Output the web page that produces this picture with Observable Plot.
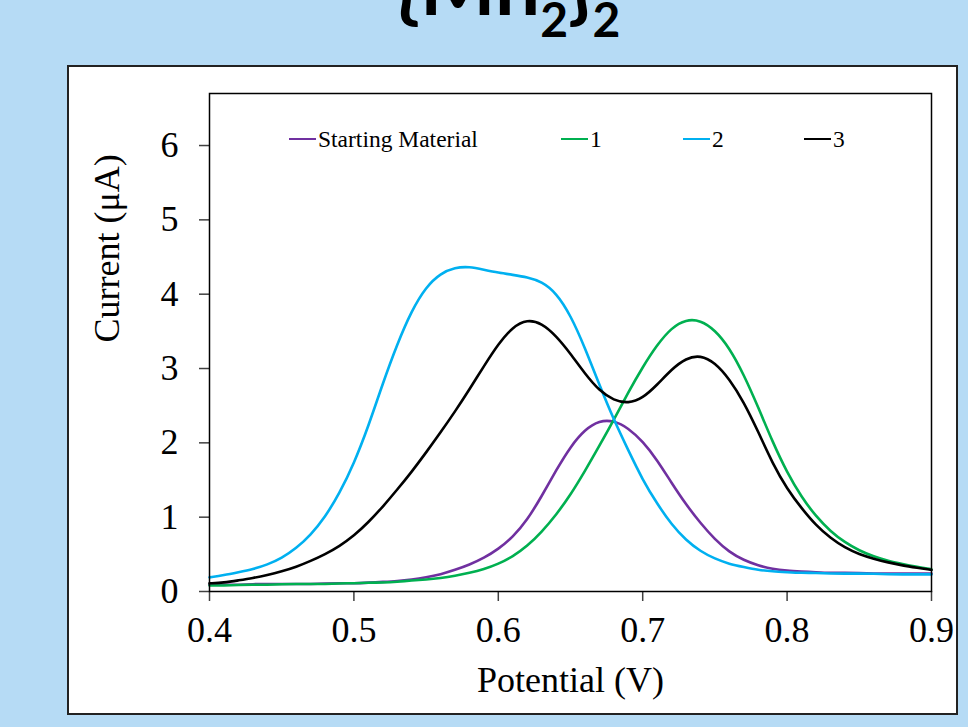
<!DOCTYPE html>
<html><head><meta charset="utf-8">
<script src="https://cdn.jsdelivr.net/npm/d3@7"></script>
<script src="https://cdn.jsdelivr.net/npm/@observablehq/plot@0.6"></script>
<style>
html,body{margin:0;padding:0;}
body{width:968px;height:727px;background:#b6dbf5;position:relative;overflow:hidden;font-family:"Liberation Serif","Times New Roman",serif;}
#box{position:absolute;left:67px;top:65px;width:891px;height:650px;box-sizing:border-box;border:2px solid #222;background:#fff;}
#title{position:absolute;left:0;top:0;}
#chart{position:absolute;left:0;top:0;}
#legend{position:absolute;top:127px;left:289px;height:24px;}
.item{position:absolute;top:0;display:flex;align-items:center;height:24px;line-height:24px;font-size:23.5px;white-space:nowrap;color:#000;}
.sw{display:inline-block;width:27px;height:2.5px;margin-right:2px;}
</style>
</head>
<body>
<div id="box"></div>
<svg id="title" width="968" height="60"><text x="508" y="15" text-anchor="middle" font-family="Lato" font-weight="700" font-size="80" fill="#000">{Mn<tspan font-size="48" dy="22">2</tspan><tspan font-size="80" dy="-22">}</tspan><tspan font-size="48" dy="22">2</tspan></text></svg>
<div id="chart"></div>
<div id="legend"></div>
<script>
// Potential (V) grid and current (µA) per series
const potential = [0.40, 0.41, 0.42, 0.43, 0.44, 0.45, 0.46, 0.47, 0.48, 0.49,
                   0.50, 0.51, 0.52, 0.53, 0.54, 0.55, 0.56, 0.57, 0.58, 0.59,
                   0.60, 0.61, 0.62, 0.63, 0.64, 0.65, 0.66, 0.67, 0.68, 0.69,
                   0.70, 0.71, 0.72, 0.73, 0.74, 0.75, 0.76, 0.77, 0.78, 0.79,
                   0.80, 0.81, 0.82, 0.83, 0.84, 0.85, 0.86, 0.87, 0.88, 0.89, 0.90];
const startingMaterial = [0.09, 0.09, 0.09, 0.10, 0.10, 0.10, 0.10, 0.10, 0.11, 0.11,
                          0.11, 0.12, 0.13, 0.14, 0.16, 0.19, 0.23, 0.29, 0.36, 0.45,
                          0.57, 0.73, 0.96, 1.28, 1.63, 1.95, 2.18, 2.30, 2.30, 2.20,
                          2.02, 1.77, 1.46, 1.17, 0.92, 0.70, 0.53, 0.42, 0.35, 0.30,
                          0.28, 0.27, 0.26, 0.25, 0.25, 0.25, 0.24, 0.24, 0.24, 0.24, 0.24];
const compound1 = [0.08, 0.08, 0.09, 0.09, 0.09, 0.10, 0.10, 0.10, 0.10, 0.11,
                   0.11, 0.12, 0.12, 0.13, 0.15, 0.16, 0.18, 0.21, 0.25, 0.30,
                   0.37, 0.47, 0.61, 0.80, 1.03, 1.30, 1.62, 1.96, 2.31, 2.68,
                   3.02, 3.32, 3.55, 3.66, 3.65, 3.52, 3.28, 2.92, 2.48, 2.01,
                   1.60, 1.27, 1.01, 0.81, 0.66, 0.55, 0.47, 0.41, 0.37, 0.33, 0.30];
const compound2 = [0.19, 0.22, 0.26, 0.30, 0.36, 0.45, 0.58, 0.76, 1.00, 1.32,
                   1.72, 2.22, 2.80, 3.33, 3.78, 4.10, 4.28, 4.36, 4.37, 4.33,
                   4.29, 4.26, 4.23, 4.17, 4.02, 3.72, 3.28, 2.78, 2.31, 1.90,
                   1.50, 1.18, 0.90, 0.69, 0.54, 0.44, 0.37, 0.33, 0.29, 0.27,
                   0.26, 0.25, 0.25, 0.24, 0.24, 0.24, 0.24, 0.23, 0.23, 0.23, 0.23];
const compound3 = [0.11, 0.12, 0.15, 0.18, 0.22, 0.27, 0.33, 0.41, 0.50, 0.61,
                   0.75, 0.93, 1.14, 1.37, 1.61, 1.87, 2.14, 2.42, 2.72, 3.03,
                   3.33, 3.56, 3.66, 3.61, 3.44, 3.20, 2.93, 2.70, 2.57, 2.53,
                   2.60, 2.78, 2.99, 3.14, 3.18, 3.08, 2.86, 2.55, 2.15, 1.72,
                   1.38, 1.12, 0.89, 0.72, 0.59, 0.50, 0.44, 0.39, 0.35, 0.32, 0.29];

const seriesNames = ["Starting Material", "1", "2", "3"];
const seriesColors = ["#7030A0", "#00B050", "#00B0F0", "#000000"];
const xTicks = [0.4, 0.5, 0.6, 0.7, 0.8, 0.9];
const yTicks = [0, 1, 2, 3, 4, 5, 6];
const xLabel = "Potential (V)";
const yLabel = "Current (\u03BCA)";

const seriesValues = [startingMaterial, compound1, compound2, compound3];
const rows = seriesValues.flatMap((vals, k) => potential.map((v, j) => ({v, i: vals[j], name: seriesNames[k]})));

const chart = Plot.plot({
  width: 968, height: 727,
  marginLeft: 209, marginRight: 37, marginTop: 93, marginBottom: 136,
  style: {background: "transparent", fontFamily: "'Liberation Serif','Times New Roman',serif", color: "#000", overflow: "visible"},
  x: {domain: [0.4, 0.9]},
  y: {domain: [0, 6.70]},
  color: {domain: seriesNames, range: seriesColors},
  marks: [
    Plot.axisX({ticks: xTicks, tickFormat: d => d.toFixed(1), tickSize: 10, tickPadding: 15, fontSize: 36, label: null, stroke: "#404040", strokeWidth: 1.5}),
    Plot.axisY({ticks: yTicks, tickFormat: d => String(d), tickSize: 10, tickPadding: 21, fontSize: 36, label: null, stroke: "#404040", strokeWidth: 1.5}),
    Plot.line(rows, {x: "v", y: "i", z: "name", stroke: "name", strokeWidth: 2.6, curve: "basis"}),
    Plot.frame({stroke: "#000", strokeWidth: 1.5}),
    Plot.text([xLabel], {frameAnchor: "bottom", dy: 75.4, lineAnchor: "top", fontSize: 36, fill: "#000"}),
    Plot.text([yLabel], {frameAnchor: "left", rotate: -90, dx: -102, fontSize: 36, fill: "#000"})
  ]
});
document.getElementById("chart").appendChild(chart);

// legend (Excel-style, inside the plot area)
const legendLefts = [0, 272, 394, 515];
const legend = document.getElementById("legend");
seriesNames.forEach((n, k) => {
  const it = document.createElement("div");
  it.className = "item";
  it.style.left = legendLefts[k] + "px";
  const sw = document.createElement("span");
  sw.className = "sw";
  sw.style.background = seriesColors[k];
  const tx = document.createElement("span");
  tx.textContent = n;
  it.appendChild(sw); it.appendChild(tx);
  legend.appendChild(it);
});
</script>
</body></html>
